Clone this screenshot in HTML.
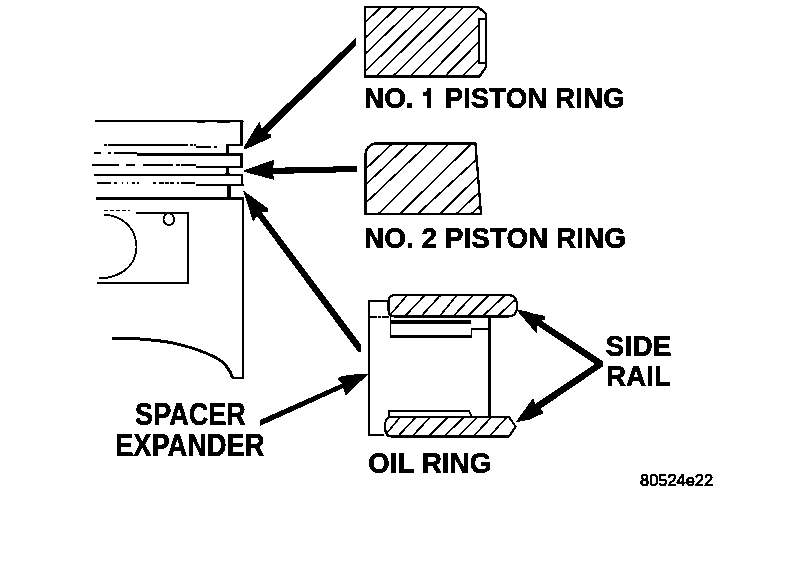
<!DOCTYPE html>
<html><head><meta charset="utf-8"><style>
html,body{margin:0;padding:0;background:#fff;width:800px;height:566px;overflow:hidden}
text{font-family:"Liberation Sans",sans-serif;fill:#000}
</style></head><body><svg width="800" height="566" viewBox="0 0 800 566" style="display:block"><defs><filter id="bw" x="0" y="0" width="800" height="566" filterUnits="userSpaceOnUse" color-interpolation-filters="sRGB"><feColorMatrix type="matrix" values="0.333 0.333 0.334 0 0 0.333 0.333 0.334 0 0 0.333 0.333 0.334 0 0 0 0 0 0 1"/><feComponentTransfer><feFuncR type="discrete" tableValues="0 1"/><feFuncG type="discrete" tableValues="0 1"/><feFuncB type="discrete" tableValues="0 1"/></feComponentTransfer></filter></defs><g filter="url(#bw)"><rect width="800" height="566" fill="#fff"/><defs><clipPath id="c1"><path d="M365,7H478L486,14V67L479.5,76.5H365Z M478.8,19V63H486V19Z" clip-rule="evenodd"/></clipPath><clipPath id="c2"><path d="M374,143.6H475.5L481,214H365.6V156L365.6,153.5C366,149.5 369,145.5 374,143.6Z"/></clipPath><clipPath id="c3"><path d="M395,295.2H509Q517,295.2 517,305.8Q517,316.5 509,316.5H394Q388.5,316.5 388.5,310V301.5Q388.5,295.2 395,295.2Z"/></clipPath><clipPath id="c4"><path d="M391,417H509L515.5,426.5L509,436.5H391Q385,436.5 385,426.5Q385,417 391,417Z"/></clipPath></defs><path clip-path="url(#c1)" d="M409.54,-20.80L281.26,104.40M425.54,-20.80L297.26,104.40M442.70,-20.80L312.90,104.40M458.95,-20.80L331.45,104.40M474.95,-20.80L347.45,104.40M491.75,-20.80L364.25,104.40M507.02,-20.80L382.58,104.40M523.45,-20.80L400.55,104.40M540.54,-20.80L417.26,104.40M557.26,-20.80L435.14,104.40M574.45,-20.80L451.55,104.40" stroke="#000" stroke-width="1.7" fill="none"/><path d="M365,7H478L486,14V67L479.5,76.5H365Z" stroke="#000" fill="none" stroke-width="2.3"/><path d="M486,19H478.8V63H486" stroke="#000" fill="none" stroke-width="1.8"/><path clip-path="url(#c2)" d="M421.87,115.50L288.33,242.40M438.47,115.50L304.93,242.40M457.77,115.50L324.23,242.40M476.94,115.50L349.86,242.40M500.18,115.50L370.82,242.40M523.88,115.50L386.92,242.40M540.04,115.50L410.86,242.40M559.39,115.50L426.61,242.40M579.75,115.50L439.95,242.40" stroke="#000" stroke-width="1.7" fill="none"/><path d="M374,143.6H475.5L481,214H365.6V156L365.6,153.5C366,149.5 369,145.5 374,143.6Z" stroke="#000" fill="none" stroke-width="2.3"/><path clip-path="url(#c3)" d="M432.50,266.00L364.90,344.00M452.33,266.00L378.67,344.00M467.20,266.00L395.70,344.00M481.13,266.00L416.57,344.00M500.90,266.00L426.80,344.00M517.93,266.00L440.37,344.00M536.20,266.00L453.00,344.00M551.80,266.00L467.30,344.00" stroke="#000" stroke-width="1.7" fill="none"/><path d="M395,295.2H509Q517,295.2 517,305.8Q517,316.5 509,316.5H394Q388.5,316.5 388.5,310V301.5Q388.5,295.2 395,295.2Z" stroke="#000" fill="none" stroke-width="2.2"/><path clip-path="url(#c4)" d="M423.80,388.00L360.10,466.00M442.83,388.00L370.47,466.00M457.57,388.00L384.33,466.00M477.33,388.00L398.47,466.00M494.10,388.00L413.50,466.00M505.37,388.00L429.53,466.00M518.93,388.00L445.27,466.00M533.00,388.00L462.80,466.00" stroke="#000" stroke-width="1.7" fill="none"/><path d="M391,417H509L515.5,426.5L509,436.5H391Q385,436.5 385,426.5Q385,417 391,417Z" stroke="#000" fill="none" stroke-width="2.2"/><path d="M388.5,301H368.8V435H383.5" stroke="#000" fill="none" stroke-width="2"/><path d="M369,316.8H389" stroke="#000" fill="none" stroke-width="1.4" stroke-dasharray="8,1,3,1,8"/><path d="M390.5,317V336.5H471.5V329H489.5" stroke="#000" fill="none" stroke-width="1.8"/><path d="M391,322.2H471" stroke="#000" fill="none" stroke-width="3.2"/><path d="M489.5,316V417" stroke="#000" fill="none" stroke-width="2.2"/><path d="M389,418V411H469L471.5,416.5" stroke="#000" fill="none" stroke-width="1.8"/><path d="M95,121.4H243.5" stroke="#000" fill="none" stroke-width="1.9"/><path d="M197,122.8H205" stroke="#000" fill="none" stroke-width="1"/><path d="M217,122.8H230" stroke="#000" fill="none" stroke-width="1"/><path d="M241.5,120.5V146" stroke="#000" fill="none" stroke-width="3"/><path d="M226,144.8H243" stroke="#000" fill="none" stroke-width="2.4"/><path d="M227.5,144V153.5" stroke="#000" fill="none" stroke-width="3.8"/><path d="M104,144.9H196" stroke="#000" fill="none" stroke-width="1.8" stroke-dasharray="3,1,80,2"/><path d="M196,146.8H217" stroke="#000" fill="none" stroke-width="1.8" stroke-dasharray="15,3,3,10"/><path d="M94,153H137" stroke="#000" fill="none" stroke-width="1.8" stroke-dasharray="7,7,3,3,30"/><path d="M137,154.5H243" stroke="#000" fill="none" stroke-width="2.2"/><path d="M241.5,153V167.5" stroke="#000" fill="none" stroke-width="3"/><path d="M92,165H196" stroke="#000" fill="none" stroke-width="1.7" stroke-dasharray="27,7,9,8,30,3,4,1"/><path d="M196,167H243" stroke="#000" fill="none" stroke-width="2"/><path d="M227.5,167V175" stroke="#000" fill="none" stroke-width="3.8"/><path d="M94,174.9H243" stroke="#000" fill="none" stroke-width="2.2"/><path d="M241.8,174V185" stroke="#000" fill="none" stroke-width="2.6"/><path d="M97,183H196" stroke="#000" fill="none" stroke-width="1.6" stroke-dasharray="14,3,3,5,1,4,1,4,3,2,2"/><path d="M196,185H244" stroke="#000" fill="none" stroke-width="2"/><path d="M228.7,185V198" stroke="#000" fill="none" stroke-width="4"/><path d="M96,198.5H244" stroke="#000" fill="none" stroke-width="2"/><path d="M243.2,198V377.8H232" stroke="#000" fill="none" stroke-width="2"/><path d="M112,338C140,338.5 160,340.2 175,343.4C190,347 205,352 216.3,357.8C224.5,362.5 229.5,369 232.5,377.5" stroke="#000" fill="none" stroke-width="3"/><path d="M136,212.6H188.3V283H97" stroke="#000" fill="none" stroke-width="1.6"/><path d="M104,210.5H130" stroke="#000" fill="none" stroke-width="1.2" stroke-dasharray="4,2"/><path d="M104,214.7C125,216 136,230 136.5,246.7C136,265 122,278 98.6,278.4" stroke="#000" fill="none" stroke-width="1.8"/><ellipse cx="168.8" cy="219.2" rx="5.3" ry="5.9" stroke="#000" fill="none" stroke-width="1.8"/><path d="M355.8,37.8L261.5,128.5L259.4,121.5L244.2,146.5L244.5,149.8L270.7,137.8L270.7,134L267,133.5L355.8,45.9Z" fill="#000"/><path d="M357,166L273,167.7L274.7,159.5L244,170.3L244,171.7L274.7,180L273,174L357,171.9Z" fill="#000"/><path d="M360.8,344.4L360.8,351.8L358,351.8L257.1,216.1L253.2,221.7L242.9,190.3L267.7,208.3L267.7,211.9L261.7,212.2Z" fill="#000"/><path d="M260,420L342,383.5L338,379.8L338,378L342,376L356,374.3L368.5,374L345.5,395.6L343.3,387.9L260,426Z" fill="#000"/><path d="M516.5,310L525,310.8L533,313.5L545,316.1L545,319.8L540.9,320.3L602.7,361L602.7,366.5L540.8,408.4L543.7,413L530,419.5L515.4,422.5L533.1,398L535.2,403.9L595.1,363.9L537.5,325.5L536.6,333.5Z" fill="#000"/><text x="364.10" y="108.00" font-size="29.50" font-weight="bold" textLength="260.50" lengthAdjust="spacingAndGlyphs" stroke="#000" stroke-width="0.5">NO. 1 PISTON RING</text><text x="364.10" y="247.90" font-size="29.20" font-weight="bold" textLength="261.80" lengthAdjust="spacingAndGlyphs" stroke="#000" stroke-width="0.5">NO. 2 PISTON RING</text><text x="605.60" y="356.00" font-size="29.60" font-weight="bold" textLength="65.80" lengthAdjust="spacingAndGlyphs" stroke="#000" stroke-width="0.5">SIDE</text><text x="606.00" y="385.70" font-size="28.80" font-weight="bold" textLength="65.00" lengthAdjust="spacingAndGlyphs" stroke="#000" stroke-width="0.5">RAIL</text><text x="135.10" y="425.40" font-size="31.00" font-weight="bold" textLength="110.70" lengthAdjust="spacingAndGlyphs" stroke="#000" stroke-width="0.5">SPACER</text><text x="115.20" y="455.70" font-size="31.20" font-weight="bold" textLength="149.10" lengthAdjust="spacingAndGlyphs" stroke="#000" stroke-width="0.5">EXPANDER</text><text x="368.00" y="472.80" font-size="30.40" font-weight="bold" textLength="123.40" lengthAdjust="spacingAndGlyphs" stroke="#000" stroke-width="0.5">OIL RING</text><text x="640.00" y="485.80" font-size="16.70" font-weight="normal" textLength="73.10" lengthAdjust="spacingAndGlyphs" stroke="#000" stroke-width="0.8">80524e22</text><rect x="421.5" y="85" width="17" height="25" fill="#fff"/><path d="M427.1,88H430.9V107.9H427.1V95.9H423.2V91.9H426.2L427.1,90Z" fill="#000"/></g></svg></body></html>
